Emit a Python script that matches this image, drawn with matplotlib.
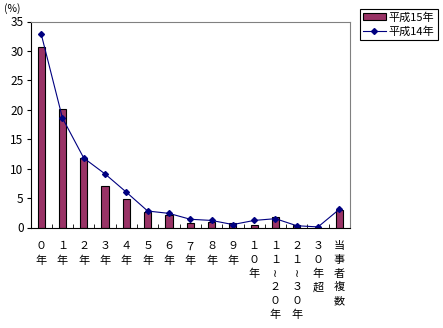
import matplotlib
matplotlib.use("Agg")
import matplotlib.pyplot as plt
import numpy as np

plt.rcParams['font.family'] = ['Noto Sans CJK JP', 'DejaVu Sans']

categories = ["０年", "１年", "２年", "３年", "４年", "５年", "６年", "７年", "８年", "９年",
              "１０年", "１１≀２０年", "２１≀３０年", "３０年超", "当事者複数"]
h15 = [30.6, 20.1, 11.8, 7.0, 4.8, 2.7, 2.2, 0.7, 0.9, 0.8, 0.5, 1.7, 0.4, 0.0, 3.0]
h14 = [32.9, 18.6, 11.8, 9.1, 6.0, 2.8, 2.4, 1.4, 1.2, 0.5, 1.2, 1.5, 0.3, 0.1, 3.1]

bar_color = '#993366'
line_color = '#000080'

fig = plt.figure(figsize=(4.43, 3.28), dpi=100)
ax = fig.add_axes([30.5 / 443, 1 - 227.5 / 328, (350 - 30.5) / 443, (227.5 - 21.5) / 328])

x = np.arange(len(categories))
bars = ax.bar(x, h15, width=0.34, color=bar_color, edgecolor='black', linewidth=0.8, label='平成15年')
line, = ax.plot(x, h14, color=line_color, linewidth=0.8, marker='D', markersize=3, label='平成14年')

ax.set_xlim(-0.5, len(categories) - 0.5)
ax.set_ylim(0, 35)
ax.set_yticks(range(0, 36, 5))
ax.tick_params(axis='y', direction='out', length=3, labelsize=8.5, pad=2)

# vertical tick labels, one character per line
ax.set_xticks(x)
ax.set_xticklabels(['\n'.join(c) for c in categories], fontsize=8, va='top', linespacing=1.45)
ax.tick_params(axis='x', which='major', length=0, pad=10)
ax.set_xticks(np.arange(-0.5, len(categories), 1), minor=True)
ax.tick_params(axis='x', which='minor', direction='in', length=3)

for s in ['top', 'right']:
    ax.spines[s].set_color('#808080')
for s in ['left', 'bottom']:
    ax.spines[s].set_color('black')

fig.text(4 / 443, 1 - 3 / 328, '(%)', fontsize=7.5, va='top', ha='left')

leg = fig.legend([bars, line], ['平成15年', '平成14年'], loc='upper left',
                 bbox_to_anchor=(360 / 443, 1 - 9 / 328), fontsize=8,
                 frameon=True, fancybox=False, edgecolor='black', framealpha=1,
                 handlelength=2.0, handleheight=0.6, borderpad=0.3, labelspacing=0.3,
                 handletextpad=0.3, borderaxespad=0)
leg.get_frame().set_linewidth(0.8)

fig.savefig('out.png', dpi=100)
